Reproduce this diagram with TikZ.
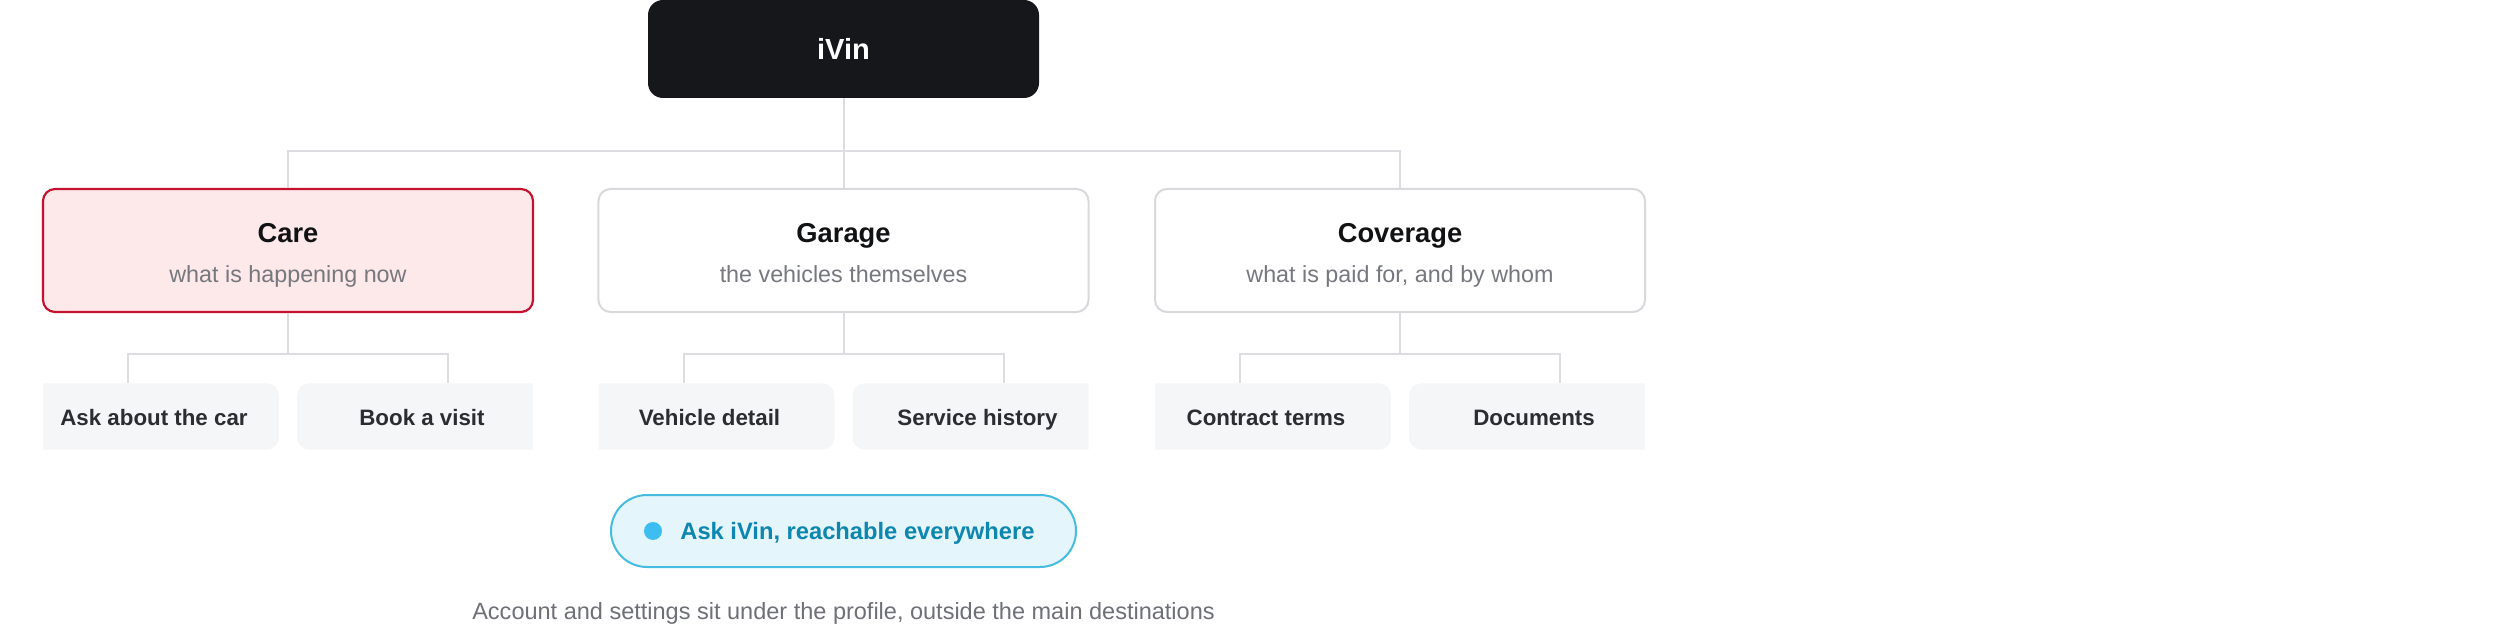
\documentclass[tikz,border=0pt]{standalone}
\usepackage{fontspec}
\setmainfont{Liberation Sans}
\usetikzlibrary{positioning}
\definecolor{rootink}{HTML}{16171B}
\definecolor{linkgray}{HTML}{DCDDE0}
\definecolor{boxgray}{HTML}{D8D9DC}
\definecolor{carered}{HTML}{C41230}
\definecolor{carefill}{HTML}{FDE8EA}
\definecolor{leaffill}{HTML}{F5F6F7}
\definecolor{titleink}{HTML}{111214}
\definecolor{subink}{HTML}{76787E}
\definecolor{leafink}{HTML}{2B2D31}
\definecolor{pillfill}{HTML}{E4F5FB}
\definecolor{pillline}{HTML}{45BCE0}
\definecolor{pillink}{HTML}{0D86B0}
\definecolor{dotblue}{HTML}{3DBDF0}
\definecolor{noteink}{HTML}{6E7076}

\begin{document}
\begin{tikzpicture}[x=0.5bp,y=-0.5bp,
	rootbox/.style={fill=rootink, rounded corners=7.5bp, minimum width=195.5bp,
	minimum height=49bp, text=white, font=\fontsize{14.6}{16}\selectfont\bfseries},
	midbox/.style={draw=boxgray, fill=white, line width=1bp, rounded corners=6bp,
	minimum width=245bp, minimum height=61.5bp},
	carebox/.style={midbox, draw=carered, fill=carefill, line width=1.1bp},
	leafbox/.style={fill=leaffill, rounded corners=6bp, minimum width=151bp,
	minimum height=33bp},
	ttl/.style={anchor=base, text=titleink, font=\fontsize{13.7}{16}\selectfont\bfseries},
	sub/.style={anchor=base, text=subink, font=\fontsize{11.7}{14}\selectfont},
	leaftxt/.style={anchor=base, text=leafink, font=\fontsize{11.2}{14}\selectfont\bfseries},
	link/.style={draw=linkgray, line width=1bp}]
\useasboundingbox (0,0) rectangle (2496,626);

% top
\node [rootbox] (root) at (843.5,49) {iVin};
\coordinate (trunk) at (843.5,151);

% destinations
\node [carebox] (care) at (288,250.5) {};
\node [midbox] (garage) at (843.5,250.5) {};
\node [midbox] (coverage) at (1400,250.5) {};
\node [ttl] (careT) at (288,243) {Care};
\node [sub] (careS) at (288,283) {what is happening now};
\node [ttl] (garageT) at (843.5,243) {Garage};
\node [sub] (garageS) at (843.5,283) {the vehicles themselves};
\node [ttl] (coverageT) at (1400,243) {Coverage};
\node [sub] (coverageS) at (1400,283) {what is paid for, and by whom};

\draw [link] (root.south) -- (trunk);
\draw [link] (care.north) |- (trunk) -| (coverage.north);
\draw [link] (trunk) -- (garage.north);

% leaves, cut at the width of their column
\begin{scope}
\clip (43,375) rectangle (533,460);
\node [leafbox] (askcar) at (128,416.5) {};
\node [leafbox] (book) at (448,416.5) {};
\end{scope}
\begin{scope}
\clip (598.5,375) rectangle (1088.5,460);
\node [leafbox] (detail) at (683.5,416.5) {};
\node [leafbox] (history) at (1003.5,416.5) {};
\end{scope}
\begin{scope}
\clip (1155,375) rectangle (1645,460);
\node [leafbox] (terms) at (1240,416.5) {};
\node [leafbox] (docs) at (1560,416.5) {};
\end{scope}
\node [leaftxt] (askcarT) at (154,425) {Ask about the car};
\node [leaftxt] (bookT) at (422,425) {Book a visit};
\node [leaftxt] (detailT) at (709.5,425) {Vehicle detail};
\node [leaftxt] (historyT) at (977.5,425) {Service history};
\node [leaftxt] (termsT) at (1266,425) {Contract terms};
\node [leaftxt] (docsT) at (1534,425) {Documents};

\coordinate (careJ) at (288,354);
\coordinate (garageJ) at (843.5,354);
\coordinate (coverageJ) at (1400,354);
\draw [link] (care.south) -- (careJ);
\draw [link] (askcar.north) |- (careJ) -| (book.north);
\draw [link] (garage.south) -- (garageJ);
\draw [link] (detail.north) |- (garageJ) -| (history.north);
\draw [link] (coverage.south) -- (coverageJ);
\draw [link] (terms.north) |- (coverageJ) -| (docs.north);

% assistant
\node [draw=pillline, fill=pillfill, line width=1bp, rounded corners=18bp,
	minimum width=232.5bp, minimum height=36bp] (pill) at (843.5,531) {};
\node [circle, fill=dotblue, inner sep=0pt, minimum size=9bp] (dot) at (653,531) {};
\node [anchor=base west, inner sep=0pt, text=pillink,
	font=\fontsize{11.9}{14}\selectfont\bfseries] (pillT) at (680,539.5) {Ask iVin, reachable everywhere};

% note
\node [anchor=base, inner sep=0pt, text=noteink, font=\fontsize{11.8}{14}\selectfont] (note)
	at (843.5,619.5) {Account and settings sit under the profile, outside the main destinations};
\end{tikzpicture}
\end{document}
